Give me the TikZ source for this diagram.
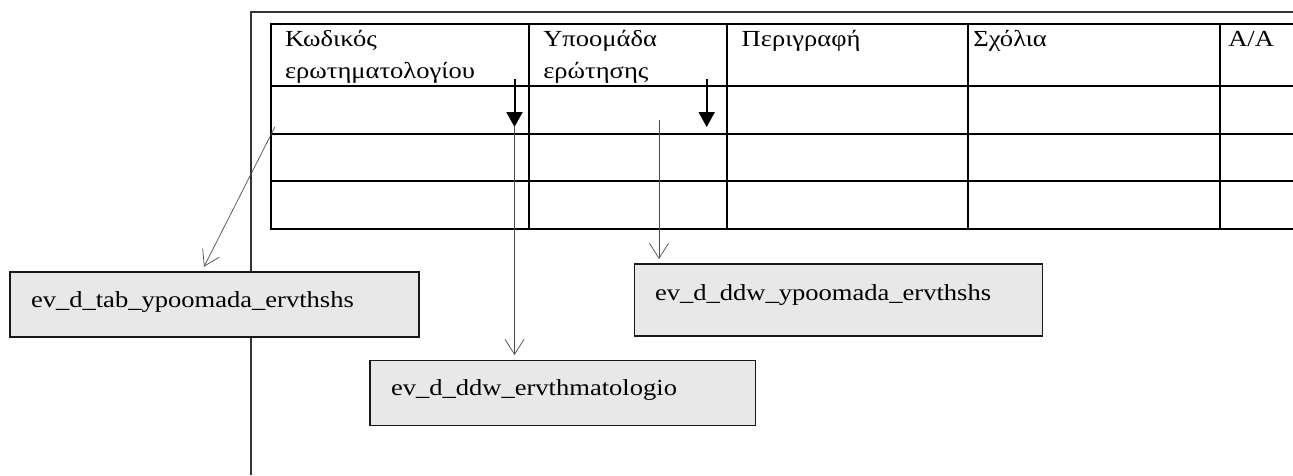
\documentclass[tikz,border=0pt]{standalone}
\usepackage{fontspec}
\setmainfont{Liberation Serif}[FakeStretch=1.154]
\usetikzlibrary{arrows.meta}
\begin{document}
\begin{tikzpicture}[x=1pt,y=-1pt,
  every node/.style={font=\fontsize{23}{27}\selectfont, inner sep=0pt, outer sep=0pt},
  gridln/.style={line width=2pt},
  frameln/.style={line width=2pt, draw=black!80},
  box/.style={draw=black!90, line width=1.5pt, fill=black!9, rectangle},
  thinarrow/.style={draw=black!70, line width=0.7pt, -{Straight Barb[length=15pt,width=19pt]}},
  boldarrow/.style={line width=2pt, -{Triangle[length=15pt,width=16pt]}},
  txt/.style={anchor=base west}
]
\useasboundingbox (0,0) rectangle (1293,475);
% frame
\draw[frameln] (250.7,475) -- (250.7,12) -- (1293,12);
% table
\foreach \y in {24,86,134,181,228.5} \draw[gridln] (270.7,\y) -- (1293,\y);
\foreach \x in {270.7,528.8,727,967.5,1219.5} \draw[gridln] (\x,23) -- (\x,229.5);
% header texts
\node[txt] (h1a) at (285,46.7) {Κωδικός};
\node[txt] (h1b) at (285,78) {ερωτηματολογίου};
\node[txt] (h2a) at (543.3,46.7) {Υποομάδα};
\node[txt] (h2b) at (543.3,78) {ερώτησης};
\node[txt] (h3) at (741.7,46.7) {Περιγραφή};
\node[txt] (h4) at (973.3,46.7) {Σχόλια};
\node[txt] (h5) at (1228.3,46.7) {A/A};
% boxes
\node[box, minimum width=409pt, minimum height=65pt] (tab) at (214.5,304.3) {};
\node[box, minimum width=408.4pt, minimum height=72pt] (ypo) at (838.5,300) {};
\node[box, minimum width=385.5pt, minimum height=65pt] (erv) at (562.75,393.2) {};
\node[txt] (tabt) at (31,307) {ev\_d\_tab\_ypoomada\_ervthshs};
\node[txt] (ypot) at (655,300) {ev\_d\_ddw\_ypoomada\_ervthshs};
\node[txt] (ervt) at (391,395.7) {ev\_d\_ddw\_ervthmatologio};
% connectors
\coordinate (b1s) at (514.5,79);
\coordinate (b1e) at (514.5,127);
\coordinate (b2s) at (706.7,79);
\coordinate (b2e) at (706.7,127);
\coordinate (v2s) at (659,120);
\coordinate (d1s) at (275,126.7);
\coordinate (d1e) at (204,266.7);
\draw[boldarrow] (b1s) -- (b1e);
\draw[boldarrow] (b2s) -- (b2e);
\draw[thinarrow, shorten >=5.7pt] (b1e) -- (b1e |- erv.north);
\draw[thinarrow, shorten >=5pt] (v2s) -- (v2s |- ypo.north);
\draw[thinarrow] (d1s) -- (d1e);
\end{tikzpicture}
\end{document}
